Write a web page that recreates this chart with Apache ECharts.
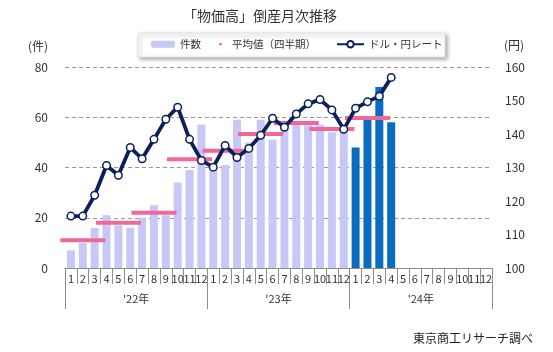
<!DOCTYPE html>
<html>
<head>
<meta charset="utf-8">
<script src="https://cdn.jsdelivr.net/npm/echarts@6/dist/echarts.min.js"></script>
<style>
html,body{margin:0;padding:0;background:#fff;}
#chart{width:553px;height:352px;}
</style>
</head>
<body>
<div id="chart"></div>
<script>
// ---- data ----
var years = ["'22年", "'23年", "'24年"];
var months = ['1','2','3','4','5','6','7','8','9','10','11','12'];
var counts2022 = [7, 10, 16, 21, 17, 16, 20, 25, 21, 34, 39, 57];
var counts2023 = [40, 41, 59, 50, 59, 51, 57, 58, 58, 57, 54, 55];
var counts2024 = [48, 59, 72, 58, null, null, null, null, null, null, null, null];
var quarterAvg = [11, 18, 22, 43.3, 46.7, 53.3, 57.7, 55.3, 59.7];
var usdjpy2022 = [115.5, 115.5, 121.7, 130.6, 127.7, 136.0, 132.6, 138.4, 144.4, 148.0, 138.4, 132.1];
var usdjpy2023 = [130.1, 136.6, 133.0, 135.7, 139.6, 144.7, 142.0, 146.0, 149.0, 150.3, 147.2, 141.4];
var usdjpy2024 = [147.7, 149.6, 151.3, 156.9, null, null, null, null, null, null, null, null];

var NAVY = '#0a1f5c', LAV = '#c8c8f6', BLUE = '#0a6cc0', PINK = '#f0679a';
var FONT = "'Noto Sans CJK JP', 'Noto Sans', sans-serif";

// ---- build library inputs ----
var categories = [], countData = [], rateData = [], avgData = [];
var countsByYear = [counts2022, counts2023, counts2024];
var ratesByYear = [usdjpy2022, usdjpy2023, usdjpy2024];
for (var y = 0; y < years.length; y++) {
  for (var m = 0; m < 12; m++) {
    categories.push(y + '-' + months[m]);
    var v = countsByYear[y][m];
    countData.push(v == null ? null : { value: v, itemStyle: { color: y === 2 ? BLUE : LAV } });
    rateData.push(ratesByYear[y][m]);
    var q = y * 4 + Math.floor(m / 3);
    avgData.push((m % 3 === 1 && q < quarterAvg.length) ? quarterAvg[q] : null);
  }
}

var chart = echarts.init(document.getElementById('chart'), null, { renderer: 'canvas' });
chart.setOption({
  animation: false,
  textStyle: { fontFamily: FONT },
  title: {
    text: '「物価高」倒産月次推移', left: 183, top: 9, padding: 0,
    textStyle: { fontSize: 14, fontWeight: 'normal', color: '#333', fontFamily: FONT }
  },
  graphic: [
    { type: 'rect', z: 0, shape: { x: 138, y: 33, width: 307, height: 24 },
      style: { fill: '#fff', stroke: '#e4e4e4', lineWidth: 1, shadowBlur: 4, shadowOffsetX: 2, shadowOffsetY: 2, shadowColor: 'rgba(0,0,0,0.35)' } },
    { type: 'text', x: 38, y: 46, style: { text: '(件)', fill: '#333', font: '12px ' + FONT, textAlign: 'center', textVerticalAlign: 'middle' } },
    { type: 'text', x: 514, y: 45, style: { text: '(円)', fill: '#333', font: '12px ' + FONT, textAlign: 'center', textVerticalAlign: 'middle' } },
    { type: 'text', x: 533, y: 338, style: { text: '東京商工リサーチ調べ', fill: '#222', font: '12px ' + FONT, textAlign: 'right', textVerticalAlign: 'middle' } }
  ],
  legend: [
    { data: ['件数'], left: 151, top: 39, padding: 0, itemWidth: 24, itemHeight: 7, z: 10,
      textStyle: { fontSize: 10.5, color: '#333', fontFamily: FONT } },
    { data: ['平均値（四半期）'], left: 219, top: 39, padding: 0, itemWidth: 3, itemHeight: 2, z: 10,
      textStyle: { fontSize: 10.5, color: '#333', fontFamily: FONT, padding: [0, 0, 0, 5] } },
    { data: ['ドル・円レート'], left: 336, top: 39, padding: 0, itemWidth: 27, itemHeight: 8, z: 10,
      textStyle: { fontSize: 10.5, color: '#333', fontFamily: FONT } }
  ],
  grid: { left: 65, right: 61, top: 67, bottom: 84, containLabel: false },
  xAxis: [
    { type: 'category', data: categories, boundaryGap: true, position: 'bottom',
      axisLine: { show: true, lineStyle: { color: '#8c8c8c', width: 1 } },
      axisTick: { show: true, interval: 0, length: 16, lineStyle: { color: '#8c8c8c' } },
      axisLabel: { interval: 0, margin: 5, fontSize: 11, color: '#333',
        formatter: function (c) { return c.split('-')[1]; } },
      splitLine: { show: false } },
    { type: 'category', data: years, boundaryGap: true, position: 'bottom', offset: 0,
      axisLine: { show: false },
      axisTick: { show: true, interval: 0, length: 41, lineStyle: { color: '#8c8c8c' } },
      axisLabel: { interval: 0, margin: 25, fontSize: 11, color: '#333' },
      splitLine: { show: false } }
  ],
  yAxis: [
    { type: 'value', min: 0, max: 80, interval: 20, position: 'left',
      axisLine: { show: false }, axisTick: { show: false },
      axisLabel: { margin: 17, fontSize: 12, color: '#333' },
      splitLine: { show: true, lineStyle: { color: '#a09682', type: [4, 3], width: 1 } } },
    { type: 'value', min: 100, max: 160, interval: 10, position: 'right',
      axisLine: { show: false }, axisTick: { show: false },
      axisLabel: { margin: 13, fontSize: 12, color: '#333' },
      splitLine: { show: false } }
  ],
  series: [
    { name: '件数', type: 'bar', xAxisIndex: 0, yAxisIndex: 0, data: countData,
      barWidth: 8, itemStyle: { color: LAV }, z: 2 },
    { name: '平均値（四半期）', type: 'scatter', xAxisIndex: 0, yAxisIndex: 0, data: avgData,
      symbol: 'rect', symbolSize: [45, 4], itemStyle: { color: PINK, opacity: 1 }, z: 3 },
    { name: 'ドル・円レート', type: 'line', xAxisIndex: 0, yAxisIndex: 1, data: rateData,
      symbol: 'circle', symbolSize: 7.5, showAllSymbol: true, connectNulls: false,
      lineStyle: { color: NAVY, width: 3.8 },
      itemStyle: { color: '#fff', borderColor: NAVY, borderWidth: 1.5 }, z: 4 }
  ]
});
</script>
</body>
</html>
